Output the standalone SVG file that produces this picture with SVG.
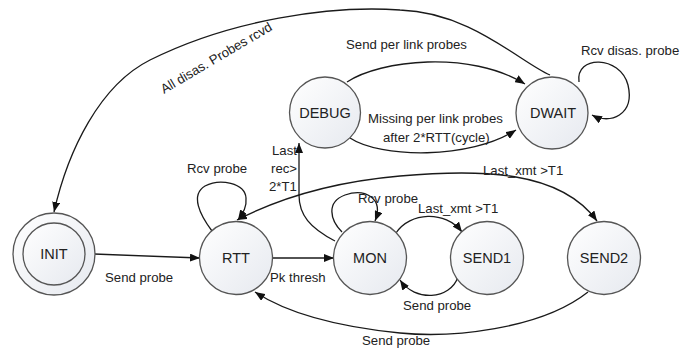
<svg xmlns="http://www.w3.org/2000/svg" width="689" height="349" viewBox="0 0 689 349">
<defs>
<linearGradient id="nodeFill" x1="0" y1="0" x2="1" y2="1">
<stop offset="0" stop-color="#ffffff"/>
<stop offset="1" stop-color="#e6e9ef"/>
</linearGradient>
<marker id="arr" markerUnits="userSpaceOnUse" markerWidth="10" markerHeight="8" refX="10" refY="4" orient="auto-start-reverse">
<path d="M0,0 L10,4 L0,8 z" fill="#111"/>
</marker>
</defs>
<style>
.node circle{fill:url(#nodeFill);stroke:#555;stroke-width:1.3}
.node text{font-family:"Liberation Sans",Arial,sans-serif;font-size:14.5px;fill:#222;text-anchor:middle}
.edge{fill:none;stroke:#1a1a1a;stroke-width:1.3}
.lbl{font-family:"Liberation Sans",Arial,sans-serif;font-size:13.2px;fill:#222}
</style>
<rect width="689" height="349" fill="#fff"/>
<g id="connectors">
<path class="edge" d="M94,254 L200,258" marker-end="url(#arr)"/>
<path class="edge" d="M273,258 L334,258" marker-end="url(#arr)"/>
<path class="edge" d="M212,231 C200,215 190,195 205,186 C220,178 245,183 246,198 C247,208 242,214 238,220" marker-end="url(#arr)"/>
<path class="edge" d="M237,220 C270,203 320,183 400,176 C480,169 560,170 597,221" marker-start="url(#arr)" marker-end="url(#arr)"/>
<path class="edge" d="M588,292 C540,330 450,338 400,333 C340,327 290,315 255,292" marker-end="url(#arr)"/>
<path class="edge" d="M342,232 C330,220 326,202 345,195 C365,188 384,198 375,221" marker-end="url(#arr)"/>
<path class="edge" d="M335,241 C310,228 299,215 299,195 L299,143" marker-end="url(#arr)"/>
<path class="edge" d="M396,233 C410,212 445,210 462,232" marker-end="url(#arr)"/>
<path class="edge" d="M458,277 C450,300 415,302 400,280" marker-end="url(#arr)"/>
<path class="edge" d="M347,82 C380,60 470,50 525,84" marker-end="url(#arr)"/>
<path class="edge" d="M350,138 C380,158 470,160 516,130" marker-end="url(#arr)"/>
<path class="edge" d="M550,75 C520,62 470,12 400,10 C330,5 230,20 150,60 C100,85 68,150 54,212" marker-end="url(#arr)"/>
<path class="edge" d="M579,82 C575,55 620,55 628,85 C635,115 610,125 592,115" marker-end="url(#arr)"/>
</g>
<g id="node-INIT" class="node">
<circle cx="54" cy="254" r="41"/>
<circle cx="54" cy="254" r="31"/>
<text x="54" y="259">INIT</text>
</g>
<g id="node-RTT" class="node">
<circle cx="236" cy="258" r="36.5"/>
<text x="236" y="263">RTT</text>
</g>
<g id="node-MON" class="node">
<circle cx="370" cy="258" r="36.5"/>
<text x="370" y="263">MON</text>
</g>
<g id="node-SEND1" class="node">
<circle cx="487" cy="258" r="36.5"/>
<text x="487" y="263">SEND1</text>
</g>
<g id="node-SEND2" class="node">
<circle cx="604" cy="258" r="36.5"/>
<text x="604" y="263">SEND2</text>
</g>
<g id="node-DEBUG" class="node">
<circle cx="325" cy="112.5" r="35.5"/>
<text x="325" y="117.5">DEBUG</text>
</g>
<g id="node-DWAIT" class="node">
<circle cx="552" cy="113" r="36"/>
<text x="553" y="118">DWAIT</text>
</g>
<g id="labels">
<text class="lbl" x="105" y="282">Send probe</text>
<text class="lbl" x="270" y="282">Pk thresh</text>
<text class="lbl" x="187" y="173">Rcv probe</text>
<text class="lbl" x="272" y="155">Last</text>
<text class="lbl" x="271" y="173">rec&gt;</text>
<text class="lbl" x="269" y="191">2*T1</text>
<text class="lbl" x="358" y="203">Rcv probe</text>
<text class="lbl" x="418" y="213">Last_xmt &gt;T1</text>
<text class="lbl" x="403" y="310">Send probe</text>
<text class="lbl" x="362" y="345">Send probe</text>
<text class="lbl" x="483" y="175">Last_xmt &gt;T1</text>
<text class="lbl" x="346" y="49">Send per link probes</text>
<text class="lbl" x="368" y="123">Missing per link probes</text>
<text class="lbl" x="383" y="142">after 2*RTT(cycle)</text>
<text class="lbl" x="581" y="55">Rcv disas. probe</text>
<text class="lbl" transform="translate(164,94) rotate(-30.6)">All disas. Probes rcvd</text>
</g>
</svg>
